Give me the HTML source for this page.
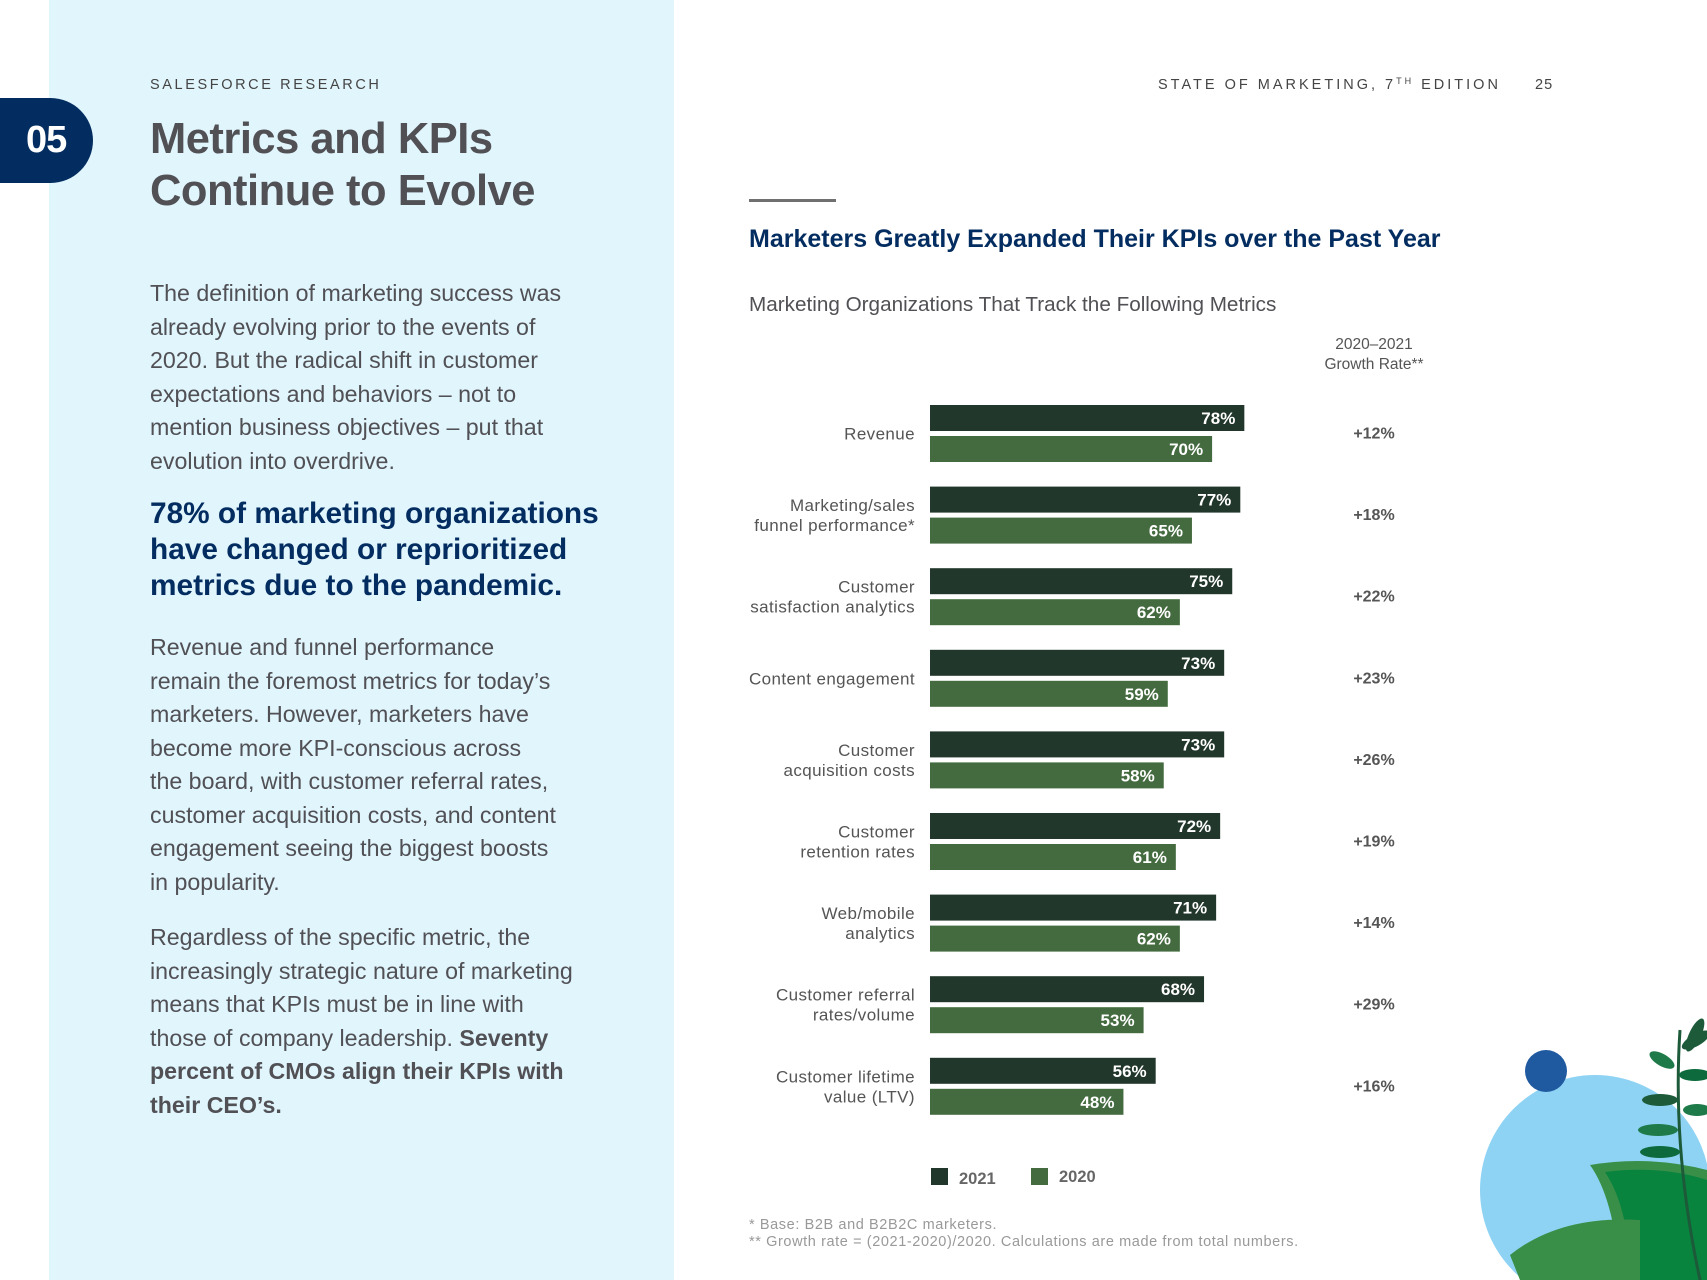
<!DOCTYPE html>
<html><head><meta charset="utf-8">
<style>
html,body{margin:0;padding:0;}
body{width:1707px;height:1280px;position:relative;overflow:hidden;background:#fff;font-family:"Liberation Sans",sans-serif;}
.abs{position:absolute;}
#panel{left:49px;top:0;width:625px;height:1280px;background:#e1f5fd;}
#tab{left:0;top:98px;width:93px;height:85px;background:#032d60;border-radius:0 43px 43px 0;color:#fff;font-size:38px;font-weight:bold;line-height:85px;text-indent:26px;letter-spacing:-1px;}
.eyebrow{font-size:14.5px;letter-spacing:2.6px;color:#444;line-height:18px;}
#title{left:150px;top:113px;font-size:43.5px;line-height:52px;color:#505055;font-weight:bold;letter-spacing:-0.5px;}
.body{left:150px;font-size:23.2px;line-height:33.5px;color:#505055;}
#hl{left:150px;top:496px;font-size:29.8px;line-height:36px;color:#032d60;font-weight:bold;}
</style></head>
<body>
<div id="panel" class="abs"></div>
<div id="tab" class="abs">05</div>
<div class="abs eyebrow" style="left:150px;top:76px;">SALESFORCE RESEARCH</div>
<div class="abs eyebrow" style="left:1158px;top:76px;letter-spacing:3px;">STATE OF MARKETING, 7<span style="font-size:9px;vertical-align:top;line-height:10px">TH</span> EDITION</div>
<div class="abs eyebrow" style="left:1535px;top:76px;letter-spacing:1px;">25</div>
<div id="title" class="abs">Metrics and KPIs<br>Continue to Evolve</div>
<div class="abs body" style="top:277px;">The definition of marketing success was<br>already evolving prior to the events of<br>2020. But the radical shift in customer<br>expectations and behaviors – not to<br>mention business objectives – put that<br>evolution into overdrive.</div>
<div id="hl" class="abs">78% of marketing organizations<br>have changed or reprioritized<br>metrics due to the pandemic.</div>
<div class="abs body" style="top:631px;">Revenue and funnel performance<br>remain the foremost metrics for today’s<br>marketers. However, marketers have<br>become more KPI-conscious across<br>the board, with customer referral rates,<br>customer acquisition costs, and content<br>engagement seeing the biggest boosts<br>in popularity.</div>
<div class="abs body" style="top:921px;">Regardless of the specific metric, the<br>increasingly strategic nature of marketing<br>means that KPIs must be in line with<br>those of company leadership. <b>Seventy<br>percent of CMOs align their KPIs with<br>their CEO’s.</b></div>

<svg class="abs" style="left:0;top:0" width="1707" height="1280" id="chart">
  <rect x="749" y="199" width="87" height="3" fill="#707070"/>
  <text x="749" y="247" font-size="25" font-weight="bold" fill="#032d60">Marketers Greatly Expanded Their KPIs over the Past Year</text>
  <text x="749" y="311" font-size="20.7" fill="#505055">Marketing Organizations That Track the Following Metrics</text>
  <text x="1374" y="349" font-size="15.5" fill="#555" text-anchor="middle">2020–2021</text>
  <text x="1374" y="369" font-size="15.5" fill="#555" text-anchor="middle">Growth Rate**</text>
  <g id="bars"></g>
  <rect x="931" y="1168" width="17" height="17" fill="#22372b"/>
  <text x="959" y="1184" font-size="16.5" font-weight="bold" fill="#666">2021</text>
  <rect x="1031" y="1168" width="17" height="17" fill="#446b3f"/>
  <text x="1059" y="1182" font-size="16.5" font-weight="bold" fill="#666">2020</text>
  <text x="749" y="1229" font-size="14.5" letter-spacing="0.6" fill="#999">* Base: B2B and B2B2C marketers.</text>
  <text x="749" y="1246" font-size="14.5" letter-spacing="0.6" fill="#999">** Growth rate = (2021-2020)/2020. Calculations are made from total numbers.</text>
  <g>
    <circle cx="1595" cy="1190" r="115" fill="#8fd3f4"/>
    <circle cx="1546" cy="1071" r="21" fill="#1f5aa0"/>
    <path d="M1590 1165 Q1650 1155 1707 1170 L1707 1280 L1620 1280 Q1615 1200 1590 1165Z" fill="#3a8f48"/>
    <path d="M1605 1172 Q1660 1165 1707 1180 L1707 1280 L1630 1280 Q1630 1210 1605 1172Z" fill="#08843f"/>
    <path d="M1510 1255 Q1560 1215 1640 1220 L1640 1280 L1520 1280Z" fill="#3a8f48"/>
    <path d="M1680 1030 Q1672 1150 1700 1280" stroke="#1d5a3a" stroke-width="3" fill="none"/>
    <ellipse cx="1696" cy="1040" rx="16" ry="6" fill="#1d5a3a" transform="rotate(-30 1696 1040)"/>
    <ellipse cx="1662" cy="1060" rx="14" ry="6" fill="#1f7a4a" transform="rotate(30 1662 1060)"/>
    <ellipse cx="1695" cy="1075" rx="16" ry="6" fill="#0c6a3c"/>
    <ellipse cx="1660" cy="1100" rx="18" ry="6" fill="#1d5a3a"/>
    <ellipse cx="1697" cy="1110" rx="14" ry="6" fill="#1f7a4a"/>
    <ellipse cx="1658" cy="1130" rx="20" ry="6" fill="#1f7a4a"/>
    <ellipse cx="1660" cy="1152" rx="20" ry="6" fill="#0c6a3c"/>
    <ellipse cx="1695" cy="1035" rx="6" ry="18" fill="#1d5a3a" transform="rotate(25 1695 1035)"/>
  </g>
</svg>

<script>
const categories = [["Revenue"],["Marketing/sales","funnel performance*"],["Customer","satisfaction analytics"],["Content engagement"],["Customer","acquisition costs"],["Customer","retention rates"],["Web/mobile","analytics"],["Customer referral","rates/volume"],["Customer lifetime","value (LTV)"]];
const values2021 = [78,77,75,73,73,72,71,68,56];
const values2020 = [70,65,62,59,58,61,62,53,48];
const growthLabels = ["+12%","+18%","+22%","+23%","+26%","+19%","+14%","+29%","+16%"];

const X0 = 930, PX = 4.03, TOP = 405, PITCH = 81.6, BH = 26, GAP = 5;
function xScale(v){ return v * PX; }
function yGroup(i){ return TOP + i * PITCH; }
const NS = "http://www.w3.org/2000/svg";
const g = document.getElementById('bars');
function mk(tag, attrs, txt){
  const e = document.createElementNS(NS, tag);
  for (const k in attrs) e.setAttribute(k, attrs[k]);
  if (txt !== undefined) e.textContent = txt;
  g.appendChild(e);
  return e;
}
categories.forEach((cat, i) => {
  const y = yGroup(i);
  const r1 = mk('rect', {x: X0, y: y, width: xScale(values2021[i]), height: BH, fill: '#22372b'});
  
  
  const t1 = mk('text', {x: X0 + xScale(values2021[i]) - 9, y: y + 19, 'font-size': 17, 'font-weight': 'bold', fill: '#fff', 'text-anchor': 'end'}, values2021[i] + '%');
  
  
  const y2 = y + BH + GAP;
  const r2 = mk('rect', {x: X0, y: y2, width: xScale(values2020[i]), height: BH, fill: '#446b3f'});
  
  
  const t2 = mk('text', {x: X0 + xScale(values2020[i]) - 9, y: y2 + 19, 'font-size': 17, 'font-weight': 'bold', fill: '#fff', 'text-anchor': 'end'}, values2020[i] + '%');
  
  
  const mid = y + BH + GAP / 2;
  if (cat.length === 1) {
    const c = mk('text', {x: 915, y: mid + 6, 'font-size': 17, 'letter-spacing': 0.4, fill: '#555', 'text-anchor': 'end'}, cat[0]);
    
    
  } else {
    cat.forEach((line, j) => {
      const c = mk('text', {x: 915, y: mid - 4 + j * 20, 'font-size': 17, 'letter-spacing': 0.4, fill: '#555', 'text-anchor': 'end'}, line);
      
      
    });
  }
  const gl = mk('text', {x: 1374, y: mid + 5, 'font-size': 16, 'font-weight': 'bold', fill: '#555', 'text-anchor': 'middle'}, growthLabels[i]);
  
  
});
</script>
</body></html>
